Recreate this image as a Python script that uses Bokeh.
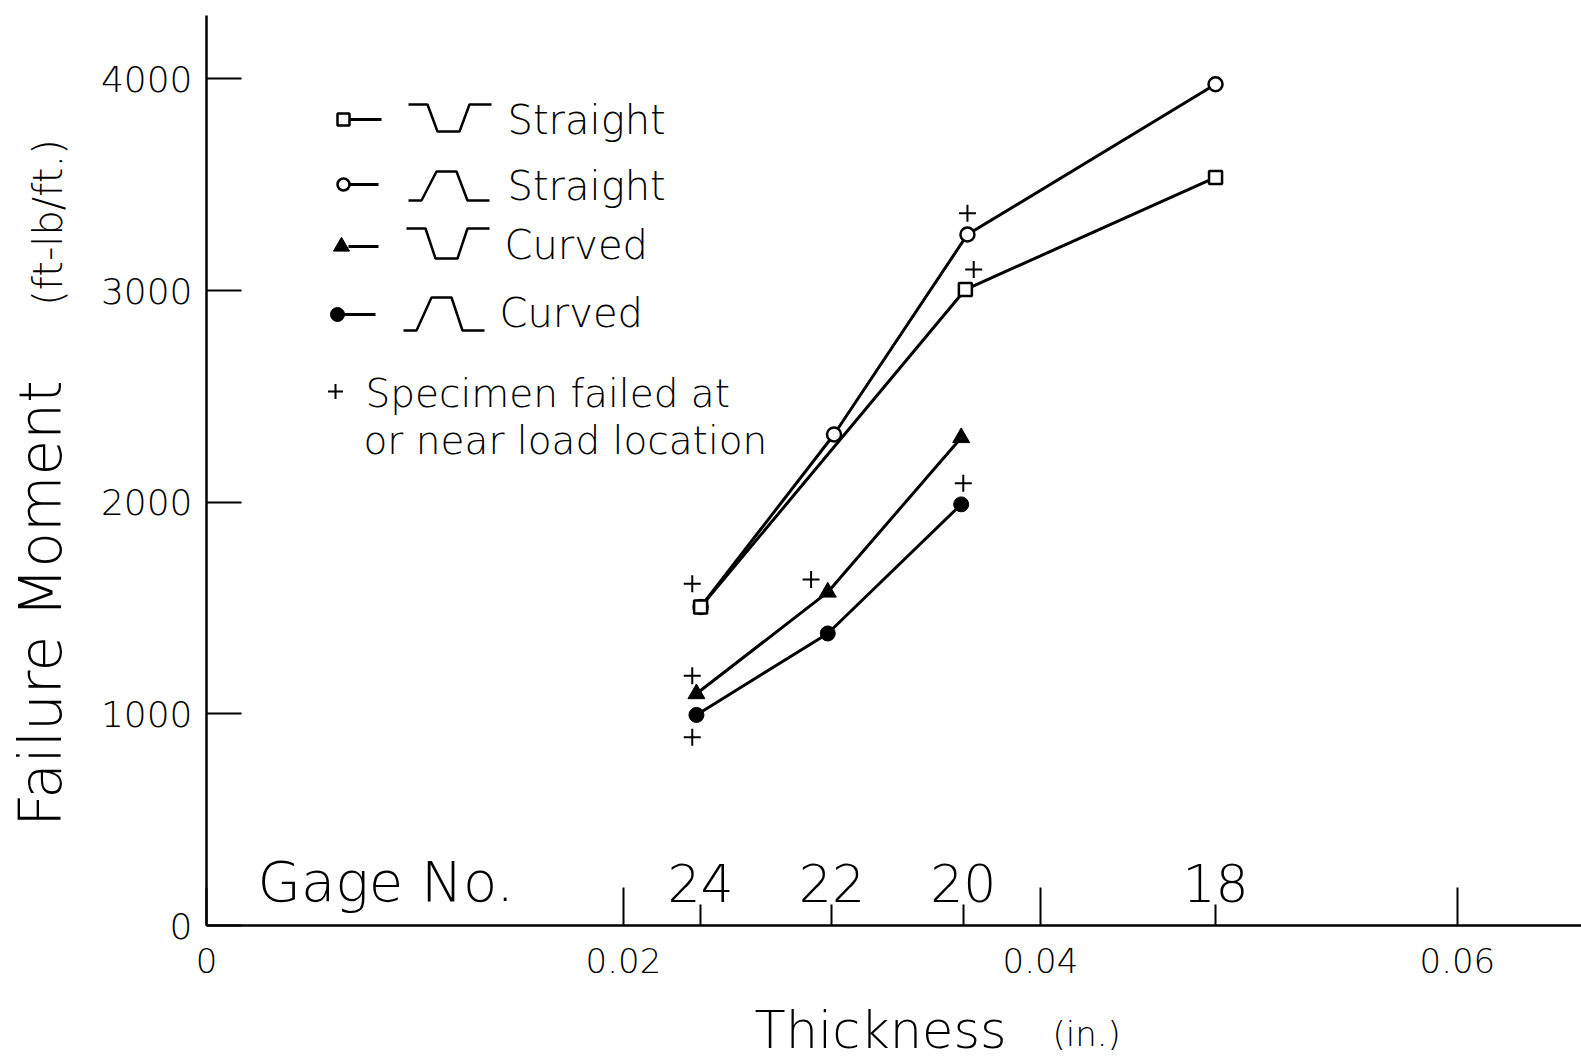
import math
from bokeh.plotting import figure
from bokeh.models import Range1d, FixedTicker, ColumnDataSource
from bokeh.core.properties import value
from bokeh.embed import file_html
from bokeh.resources import INLINE

# ---------------- data ----------------
gage_labels = ["24", "22", "20", "18"]
gage_thickness = [0.0237, 0.0300, 0.0363, 0.0484]

x_ticks = [0, 0.02, 0.04, 0.06]
x_tick_labels = ["0", "0.02", "0.04", "0.06"]
y_ticks = [0, 1000, 2000, 3000, 4000]

# deck profile, straight specimens (open square)
sq_thickness = [0.0237, 0.0364, 0.0484]
sq_moment = [1505, 3005, 3535]
# hat profile, straight specimens (open circle)
oc_thickness = [0.0237, 0.0301, 0.0365, 0.0484]
oc_moment = [1505, 2320, 3265, 3975]
# deck profile, curved specimens (filled triangle)
tri_thickness = [0.0235, 0.0298, 0.0362]
tri_moment = [1095, 1575, 2305]
# hat profile, curved specimens (filled circle)
fc_thickness = [0.0235, 0.0298, 0.0362]
fc_moment = [995, 1380, 1990]
# specimens that failed at or near load location
plus_thickness = [0.0233, 0.0233, 0.0233, 0.0290, 0.0365, 0.0368, 0.0363]
plus_moment = [1615, 1180, 890, 1635, 3365, 3100, 2090]

legend_labels = ["Straight", "Straight", "Curved", "Curved"]
note_lines = ["Specimen failed at", "or near load location"]

# ---------------- layout ----------------
W, H = 1581, 1062
FL, FR, FT, FB = 206, 1581, 15, 925     # frame edges in canvas pixels
XMAX, YMAX = 0.065954, 4300
FONT = "DejaVu Sans Light"


def fx(px):  # canvas pixel -> data x
    return (px - FL) / (FR - FL) * XMAX


def fy(py):  # canvas pixel -> data y
    return (FB - py) / (FB - FT) * YMAX


p = figure(width=W, height=H, x_range=Range1d(0, XMAX), y_range=Range1d(0, YMAX),
           output_backend="svg", toolbar_location=None,
           min_border_left=FL, min_border_right=0, min_border_top=FT,
           min_border_bottom=H - FB)
p.outline_line_color = None
p.xgrid.visible = False
p.ygrid.visible = False
p.background_fill_color = "white"
p.border_fill_color = "white"


def put_text(x, y, text, size, angle=0.0, align="left"):
    # text drawn at the overlay level so that it is not clipped to the frame
    p.text(x=[fx(x)], y=[fy(y)], text=[text], angle=angle, text_font=value(FONT),
           text_font_size=size, text_align=align, text_baseline="middle",
           text_color="black", level="overlay")


# axes
xa = p.xaxis[0]
xa.ticker = FixedTicker(ticks=x_ticks, minor_ticks=gage_thickness)
xa.major_label_overrides = {t: l for t, l in zip(x_ticks, x_tick_labels)}
xa.major_tick_in = 38
xa.major_tick_out = 0
xa.minor_tick_in = 21
xa.minor_tick_out = 0
xa.major_tick_line_width = 2
xa.minor_tick_line_width = 2
xa.axis_line_width = 2.5
xa.major_label_text_font = FONT
xa.major_label_text_font_size = "34px"
xa.major_label_text_color = "black"
xa.major_label_standoff = 22

ya = p.yaxis[0]
ya.ticker = FixedTicker(ticks=y_ticks)
ya.major_tick_in = 35
ya.major_tick_out = 0
ya.minor_tick_line_color = None
ya.major_tick_line_width = 2
ya.axis_line_width = 2.5
ya.major_label_text_font = FONT
ya.major_label_text_font_size = "36px"
ya.major_label_text_color = "black"
ya.major_label_standoff = 14

# series
LW = 3
p.line(oc_thickness, oc_moment, line_color="black", line_width=LW)
p.line(sq_thickness, sq_moment, line_color="black", line_width=LW)
p.line(tri_thickness, tri_moment, line_color="black", line_width=LW)
p.line(fc_thickness, fc_moment, line_color="black", line_width=LW)
p.scatter(oc_thickness, oc_moment, marker="circle", size=14, fill_color="white",
          line_color="black", line_width=2.5)
p.scatter(sq_thickness, sq_moment, marker="square", size=13, fill_color="white",
          line_color="black", line_width=2.5)
p.scatter(tri_thickness, tri_moment, marker="triangle", size=17, fill_color="black",
          line_color="black")
p.scatter(fc_thickness, fc_moment, marker="circle", size=15, fill_color="black",
          line_color="black")
p.scatter(plus_thickness, plus_moment, marker="cross", size=17, line_color="black",
          line_width=2)

# gage numbers
gsrc = ColumnDataSource(dict(x=gage_thickness, y=[fy(882)] * len(gage_thickness),
                             t=gage_labels))
p.text(x="x", y="y", text="t", source=gsrc, text_align="center",
       text_baseline="middle", text_font=value(FONT), text_font_size="52px",
       text_color="black")
put_text(257, 881, "Gage No.", "56px")

# axis titles
put_text(40, 603, "Failure Moment", "58px", angle=math.pi / 2, align="center")
put_text(47, 222, "(ft-lb/ft.)", "40px", angle=math.pi / 2, align="center")
put_text(754, 1030, "Thickness", "51px")
put_text(1052, 1033, "(in.)", "34px")

# legend (hand drawn, as in the original)
rows = [  # marker, marker x, y, line x0, x1, profile, profile x0, top, bottom, text x, text y
    ("square", 343, 119, 348, 381, "deck", 408, 104, 131, 507, 119),
    ("ocircle", 343, 184, 348, 378, "hat", 408, 171, 200, 507, 185),
    ("triangle", 341, 246, 348, 378, "deck", 406, 228, 258, 504, 244),
    ("fcircle", 337, 314, 343, 375, "hat", 403, 297, 330, 499, 312),
]
for (mk, mx, my, lx0, lx1, prof, px0, ptop, pbot, tx, ty), lab in zip(rows, legend_labels):
    p.line([fx(lx0), fx(lx1)], [fy(my), fy(my)], line_color="black", line_width=LW)
    if mk == "square":
        p.scatter([fx(mx)], [fy(my)], marker="square", size=12, fill_color="white",
                  line_color="black", line_width=2.5)
    elif mk == "ocircle":
        p.scatter([fx(mx)], [fy(my)], marker="circle", size=12, fill_color="white",
                  line_color="black", line_width=2.5)
    elif mk == "triangle":
        p.scatter([fx(mx)], [fy(my)], marker="triangle", size=16, fill_color="black",
                  line_color="black")
    else:
        p.scatter([fx(mx)], [fy(my)], marker="circle", size=14, fill_color="black",
                  line_color="black")
    if prof == "deck":
        xs = [px0, px0 + 19, px0 + 29, px0 + 51, px0 + 61, px0 + 83]
        ys = [ptop, ptop, pbot, pbot, ptop, ptop]
    else:
        xs = [px0, px0 + 13, px0 + 28, px0 + 48, px0 + 59, px0 + 81]
        ys = [pbot, pbot, ptop, ptop, pbot, pbot]
    p.line([fx(v) for v in xs], [fy(v) for v in ys], line_color="black", line_width=2.5)
    put_text(tx, ty, lab, "40px")

p.scatter([fx(335)], [fy(391)], marker="cross", size=15, line_color="black", line_width=2)
put_text(365, 393, note_lines[0], "39px")
put_text(363, 440, note_lines[1], "39px")

open("out.html", "w").write(file_html(p, INLINE))
